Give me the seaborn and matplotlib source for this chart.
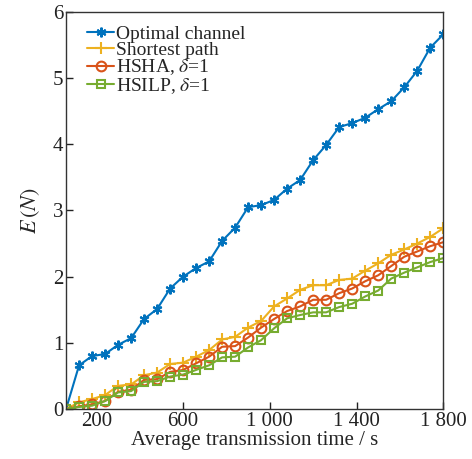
import numpy as np
import pandas as pd
import matplotlib
matplotlib.use("Agg")
import matplotlib.pyplot as plt
import seaborn as sns

x = list(range(60, 1801, 60))
optimal = [0, 0.66, 0.80, 0.83, 0.97, 1.07, 1.36, 1.51, 1.82, 2.00, 2.13, 2.23, 2.54, 2.74, 3.05,
           3.08, 3.16, 3.33, 3.46, 3.76, 3.99, 4.26, 4.32, 4.40, 4.53, 4.65, 4.86, 5.11, 5.46, 5.66]
shortest = [0, 0.10, 0.15, 0.21, 0.35, 0.37, 0.51, 0.55, 0.68, 0.70, 0.79, 0.89, 1.05, 1.09, 1.23,
            1.33, 1.55, 1.67, 1.80, 1.87, 1.87, 1.95, 1.97, 2.09, 2.20, 2.33, 2.41, 2.50, 2.60, 2.73]
hsha = [0, 0.04, 0.07, 0.12, 0.26, 0.29, 0.44, 0.45, 0.56, 0.59, 0.69, 0.79, 0.94, 0.95, 1.08,
        1.23, 1.36, 1.48, 1.55, 1.65, 1.65, 1.75, 1.82, 1.93, 2.02, 2.16, 2.30, 2.38, 2.46, 2.52]
hsilp = [0, 0.03, 0.05, 0.12, 0.25, 0.27, 0.41, 0.42, 0.49, 0.52, 0.59, 0.66, 0.78, 0.79, 0.93,
         1.04, 1.22, 1.37, 1.42, 1.46, 1.46, 1.54, 1.59, 1.70, 1.79, 1.97, 2.06, 2.14, 2.22, 2.28]

labels = ["Optimal channel", "Shortest path", r"HSHA, $\delta$=1", r"HSILP, $\delta$=1"]
series = [optimal, shortest, hsha, hsilp]
colors = ["#0072BD", "#EDB120", "#D95319", "#77AC30"]
markers = [(6, 2, 0), "+", "o", "s"]
msizes = [7, 8, 7, 6]

xticks = [200, 600, 1000, 1400, 1800]
xticklabels = ["200", "600", "1 000", "1 400", "1 800"]
yticks = [0, 1, 2, 3, 4, 5, 6]

sns.set_theme(style="ticks")
plt.rcParams["font.family"] = ["Liberation Serif", "DejaVu Serif"]
plt.rcParams["mathtext.fontset"] = "stix"

fig = plt.figure(figsize=(4.72, 4.59), dpi=100)
ax = fig.add_axes([0.14, 0.109, 0.799, 0.865])

for lab, ys, c, m, ms in zip(labels, series, colors, markers, msizes):
    df = pd.DataFrame({"x": x, "y": ys})
    mfc = c if m == (6, 2, 0) else "none"
    sns.lineplot(data=df, x="x", y="y", ax=ax, color=c, label=lab, marker=m,
                 markersize=ms, markerfacecolor=mfc, markeredgecolor=c,
                 markeredgewidth=1.5, linewidth=1.5)

ax.set_xlim(60, 1800)
ax.set_ylim(0, 6)
ax.set_xticks(xticks)
ax.set_xticklabels(xticklabels)
ax.set_yticks(yticks)
ax.tick_params(direction="in", length=5, width=1, labelsize=15, colors="#222222", pad=2)
for s in ax.spines.values():
    s.set_linewidth(1.0)
    s.set_color("#333333")
ax.set_xlabel("Average transmission time / s", fontsize=15, labelpad=0)
ax.set_ylabel(r"$E\,(N)$", fontsize=16, labelpad=8)

leg = ax.legend(loc="upper left", frameon=False, fontsize=14, handlelength=1.4,
                handletextpad=0.1, labelspacing=-0.08, borderaxespad=0.3,
                bbox_to_anchor=(0.02, 1.0))

fig.savefig("out.png", dpi=100)
